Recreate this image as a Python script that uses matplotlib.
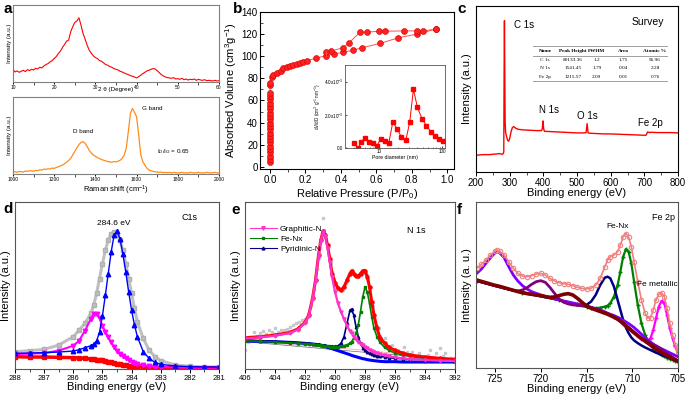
import numpy as np
import matplotlib
matplotlib.use("Agg")
import matplotlib.pyplot as plt
from matplotlib.lines import Line2D

plt.rcParams['font.family'] = ['Liberation Sans', 'DejaVu Sans']
plt.rcParams['mathtext.fontset'] = 'custom'
plt.rcParams['mathtext.rm'] = 'Liberation Sans'
plt.rcParams['mathtext.it'] = 'Liberation Sans:italic'

# ---------------- data ----------------
# a: XRD
xrd_2theta = np.arange(10, 60.5, 0.5)
xrd_int = [38, 30, 33, 29, 32, 35, 31, 37, 34, 38, 36, 41, 39, 44, 42, 48, 52, 55, 60, 64,
           70, 76, 85, 92, 103, 112, 122, 125, 150, 165, 178, 182, 192, 170, 145, 128, 110, 95, 86, 78,
           73, 70, 64, 62, 57, 52, 50, 46, 44, 40, 38, 36, 32, 30, 27, 24, 22, 19, 17, 15,
           12, 16, 20, 25, 29, 33, 35, 38, 40, 39, 34, 28, 22, 18, 15, 13, 12, 11, 13, 9,
           10, 8, 11, 7, 9, 6, 8, 7, 9, 5, 8, 6, 5, 7, 4, 5, 4, 3, 5, 3, 4]

# a: Raman
raman_shift = np.arange(1000, 2001, 10)
raman_int = [6, 7, 5, 8, 7, 6, 9, 8, 10, 9, 9, 11, 10, 13, 12, 15, 14, 16, 15, 18,
             17, 20, 22, 25, 27, 31, 36, 41, 48, 58, 69, 80, 90, 96, 99, 94, 84, 72, 64, 58,
             54, 50, 47, 44, 42, 40, 38, 37, 36, 38, 37, 39, 42, 48, 58, 80, 130, 185, 200, 188,
             175, 120, 60, 38, 27, 18, 12, 10, 8, 7, 6, 5, 6, 4, 5, 4, 5, 3, 5, 4,
             3, 4, 5, 3, 4, 3, 5, 4, 3, 4, 5, 3, 4, 3, 5, 4, 3, 4, 5, 3, 4]

# b: N2 isotherm
ads_p = [0.0] * 22 + [0.001, 0.003, 0.01, 0.02, 0.04, 0.06, 0.075, 0.094, 0.113, 0.132, 0.151,
                      0.169, 0.188, 0.207, 0.26, 0.315, 0.362, 0.414, 0.471, 0.521, 0.621,
                      0.725, 0.829, 0.936]
ads_v = [4, 7, 10, 13, 16, 19, 22, 25, 28, 31, 34, 37, 40, 43, 46, 49, 52, 55, 58, 61, 64, 67,
         74, 76, 81, 83, 85, 87, 89, 90, 91.3, 92.4, 93.3, 94.2, 95.1, 96, 98.2, 100.5, 102,
         103.6, 105.6, 107.7, 111.6, 116.7, 120, 124.5]
des_p = [0.936, 0.866, 0.829, 0.757, 0.65, 0.616, 0.546, 0.508, 0.447, 0.414, 0.345, 0.315]
des_v = [124.5, 122.9, 122.9, 122.9, 122.6, 122.6, 121.8, 121.8, 112.2, 107.7, 104.7, 103.6]

# b inset: pore size distribution (x1e-3)
pore_d = [3.96, 4.64, 5.12, 6.0, 6.85, 7.83, 9.08, 10.5, 12.2, 14.1, 16.3, 19.1, 22.3, 26.2,
          30.3, 34.7, 40.1, 47.5, 55.7, 65.3, 76.6, 89.6, 103.7]
pore_dv = [0.32, 0.0, 0.36, 0.61, 0.36, 0.30, 0.10, 0.57, 0.44, 0.28, 1.54, 1.17, 0.67, 0.46,
           1.54, 3.54, 2.46, 1.76, 1.35, 0.99, 0.73, 0.57, 0.44]

# c: survey
surv_e = [200, 220, 240, 260, 270, 278, 281, 282.5, 283.5, 284.5, 285.5, 286.5, 288, 291, 294,
          297, 300, 304, 308, 312, 318, 325, 340, 360, 380, 395, 397, 399, 401, 403, 420, 440,
          460, 480, 500, 520, 527, 530, 533, 540, 560, 580, 600, 650, 700, 705, 710, 715, 720,
          740, 760, 780, 800]
surv_i = [50, 52, 52, 54, 55, 53, 55, 60, 300, 453, 300, 150, 118, 105, 95, 92, 100, 120, 133,
          136, 131, 128, 126, 125, 124, 124, 130, 153, 130, 122, 121, 120, 119, 118, 117, 117,
          118, 145, 117, 116, 115, 114, 114, 112, 110, 110, 120, 118, 119, 118, 118, 118, 117]
tbl_header = ["Name", "Peak Height", "FWHM", "Area", "Atomic %"]
tbl_rows = [["C 1s", "80133.36", "1.2", "1.75", "96.96"],
            ["N 1s", "1541.45", "1.79", "0.04", "2.28"],
            ["Fe 2p", "1215.57", "2.09", "0.01", "0.76"]]

# d: C1s
c1s_e = [288, 287.5, 287, 286.5, 286, 285.8, 285.6, 285.4, 285.3, 285.2, 285.1, 285.0, 284.9,
         284.8, 284.7, 284.6, 284.5, 284.4, 284.3, 284.2, 284.1, 284.0, 283.9, 283.8, 283.6,
         283.4, 283.2, 283.0, 282.5, 282, 281.5, 281]
c1s_raw = [52, 55, 59, 72, 97, 117, 137, 167, 192, 227, 272, 317, 357, 387, 407, 412, 407, 387,
           357, 317, 272, 227, 182, 142, 92, 57, 37, 25, 12, 8, 6, 6]
c1s_cc = [47, 48, 49, 51, 54, 58, 64, 70, 75, 85, 110, 160, 222, 287, 352, 402, 414, 392, 347,
          292, 232, 177, 132, 97, 52, 32, 20, 14, 9, 7, 6, 6]
c1s_cn = [45, 46, 48, 55, 70, 85, 115, 150, 165, 165, 152, 130, 112, 95, 80, 66, 55, 45, 38,
          32, 27, 22, 18, 15, 11, 9, 7, 6, 5, 4, 4, 4]
c1s_bg = [37, 36, 36, 35, 34, 33, 32, 30, 29, 28, 27, 26, 24, 22, 20, 18, 16, 14, 13, 11, 10,
          9, 8, 7, 6, 5, 5, 4, 4, 4, 4, 4]

# e: N1s
n1s_e = [406, 405, 404, 403, 402.5, 402, 401.75, 401.5, 401.3, 401.1, 400.95, 400.8, 400.65,
         400.5, 400.35, 400.2, 400.0, 399.8, 399.6, 399.4, 399.2, 399.0, 398.9, 398.75, 398.6,
         398.45, 398.3, 398.15, 398.0, 397.85, 397.7, 397.55, 397.4, 397.2, 397.0, 396.7,
         396.4, 396.0, 395.5, 395, 394, 393, 392]
n1s_env = [94, 97, 102, 110, 120, 140, 162, 212, 267, 342, 387, 414, 404, 372, 332, 287, 260,
           242, 237, 247, 267, 287, 294, 287, 280, 279, 287, 295, 296, 277, 247, 202, 162, 122,
           94, 77, 65, 56, 48, 42, 36, 32, 29]
n1s_graph = [92, 95, 100, 108, 118, 138, 160, 210, 265, 340, 385, 412, 400, 364, 322, 277, 232,
             197, 172, 150, 130, 114, 107, 97, 89, 82, 76, 71, 66, 62, 58, 55, 52, 48, 45, 41,
             38, 35, 32, 30, 27, 25, 24]
n1s_fenx = [85, 83, 81, 79, 77, 76, 75, 74, 73, 72, 71, 70, 69, 68, 67, 67, 67, 67, 68, 70, 73,
            77, 82, 92, 107, 132, 172, 217, 246, 232, 197, 157, 122, 97, 80, 65, 56, 48, 42,
            38, 32, 28, 25]
n1s_pyr = [87, 85, 83, 81, 79, 78, 77, 76, 75, 74, 73, 72, 71, 70, 69, 68, 68, 70, 77, 97, 137,
           177, 180, 162, 127, 97, 77, 64, 56, 51, 47, 44, 42, 40, 38, 36, 34, 32, 31, 30, 28,
           26, 25]
n1s_bg = [84, 83, 82, 80, 79, 77, 76, 75, 74, 72, 71, 69, 67, 65, 63, 61, 58, 55, 52, 49, 46,
          43, 41, 39, 37, 35, 33, 31, 30, 28, 27, 26, 25, 24, 23, 22, 22, 22, 21, 21, 21, 21, 21]
n1s_bgline_e = [406, 399, 392]
n1s_bgline_1 = [84, 60, 30]
n1s_bgline_2 = [82, 54, 27]
n1s_raw_e = [406.0, 405.8, 405.6, 405.4, 405.2, 405.0, 404.8, 404.6, 404.4, 404.2, 404.0, 403.8,
             403.6, 403.4, 403.2, 403.0, 402.8, 402.6, 402.4, 402.2, 402.0, 401.8, 401.6, 401.4,
             401.2, 401.1, 401.0, 400.9, 400.8, 400.75, 400.7, 400.6, 400.5, 400.4, 400.3,
             400.2, 400.1, 400.0, 399.9, 399.8, 399.7, 399.6, 399.5, 399.4, 399.3, 399.2,
             399.1, 399.0, 398.9, 398.8, 398.7, 398.6, 398.5, 398.4, 398.3, 398.2, 398.1,
             398.0, 397.9, 397.8, 397.7, 397.6, 397.5, 397.4, 397.2, 397.1, 397.0, 396.8,
             396.7, 396.5, 396.2, 396.0, 395.8, 395.6, 395.4, 395.2, 394.9, 394.7, 394.4,
             394.2, 394.0, 393.8, 393.7, 393.5, 393.3, 393.1, 393.0, 392.8, 392.7, 392.5,
             392.3, 392.1]
n1s_raw_i = [57, 80, 95, 112, 100, 108, 114, 104, 117, 110, 122, 112, 118, 116, 121, 127, 131,
             137, 141, 147, 150, 165, 190, 238, 300, 335, 365, 398, 454, 418, 405, 392, 366,
             340, 318, 292, 270, 256, 250, 240, 236, 241, 238, 250, 258, 270, 282, 290, 298,
             292, 284, 283, 276, 284, 290, 296, 299, 290, 282, 268, 245, 192, 188, 160, 128,
             122, 98, 88, 92, 70, 72, 58, 57, 45, 67, 50, 52, 38, 47, 30, 22, 42, 57, 35, 47,
             30, 62, 38, 47, 25, 32, 20]

# f: Fe 2p
fe_e = [727, 726.5, 726, 725.5, 725, 724.8, 724.5, 724, 723.5, 723, 722.5, 722, 721.5, 721,
        720.5, 720, 719.5, 719, 718.5, 718, 717.5, 717, 716.5, 716, 715.5, 715, 714.5, 714,
        713.5, 713, 712.7, 712.4, 712, 711.6, 711.3, 711, 710.7, 710.4, 710.1, 709.8, 709.4,
        709, 708.6, 708.3, 708, 707.7, 707.4, 707.1, 706.8, 706.5, 706.2, 705.9, 705.6,
        705.3, 705]
fe_env = [300, 312, 325, 340, 352, 355, 352, 340, 320, 300, 285, 277, 275, 278, 283, 285, 280,
          270, 262, 257, 254, 252, 248, 243, 240, 238, 240, 250, 270, 305, 325, 335, 340, 350,
          370, 395, 405, 395, 365, 320, 260, 205, 165, 150, 152, 175, 205, 222, 227, 215, 180,
          135, 100, 70, 50]
fe_725 = [285, 298, 315, 332, 347, 350, 347, 332, 305, 280, 262, 248, 238, 230, 225, 220, 216,
          212, 208, 205, 202, 199, 196, 193, 190, 187, 183, 179, 175, 169, 165, 162, 158, 153,
          149, 144, 139, 134, 128, 122, 112, 102, 92, 85, 78, 72, 67, 62, 58, 54, 50, 46, 42,
          38, 34]
fe_bg = [265, 261, 257, 253, 249, 248, 246, 242, 238, 234, 230, 227, 224, 222, 220, 218, 215,
         213, 214, 218, 222, 224, 220, 210, 198, 187, 180, 175, 170, 165, 162, 158, 153, 147,
         141, 134, 127, 120, 113, 106, 97, 89, 81, 75, 69, 63, 57, 52, 47, 42, 37, 32, 28, 24,
         20]
fe_720_e = [727, 726, 725, 724, 723, 722.5, 722, 721.5, 721, 720.5, 720, 719.5, 719, 718.5, 718,
            717.5, 717, 716.5, 716, 715, 714, 713, 712, 711, 710, 709, 708, 707, 706, 705]
fe_720 = [264, 256, 248, 241, 234, 232, 235, 242, 252, 260, 263, 258, 243, 225, 208, 198, 193,
          190, 189, 185, 178, 168, 155, 136, 113, 90, 75, 60, 40, 22]
fe_712_e = [727, 724, 721, 718, 717, 716, 715.5, 715, 714.5, 714, 713.5, 713, 712.7, 712.4, 712,
            711.6, 711.3, 711, 710.7, 710.4, 710.1, 709.8, 709.4, 709, 708.6, 708.3, 708,
            707.7, 707.4, 707.1, 706.8, 706.5, 706.2, 705.9, 705.6, 705.3, 705]
fe_712 = [262, 240, 222, 205, 195, 189, 188, 190, 200, 220, 250, 272, 275, 270, 245, 205, 175,
          145, 122, 105, 92, 83, 75, 68, 62, 58, 54, 50, 46, 43, 39, 36, 33, 30, 27, 24, 21]
fe_710_e = [727, 722, 718, 716, 715, 714.5, 714, 713.5, 713, 712.7, 712.4, 712, 711.6, 711.3,
            711, 710.7, 710.4, 710.1, 709.8, 709.4, 709, 708.6, 708.3, 708, 707.7, 707.4,
            707.1, 706.8, 706.5, 706.2, 705.9, 705.6, 705.3, 705]
fe_710 = [262, 226, 205, 192, 185, 182, 180, 182, 185, 188, 195, 215, 250, 290, 335, 358, 350,
          315, 260, 190, 135, 100, 82, 68, 58, 50, 44, 39, 35, 31, 28, 25, 22, 19]
fe_707_e = [712, 711, 710, 709.4, 709, 708.6, 708.3, 708, 707.7, 707.4, 707.1, 706.8, 706.5,
            706.2, 705.9, 705.6, 705.3, 705]
fe_707 = [153, 134, 112, 97, 88, 82, 80, 90, 115, 150, 185, 202, 195, 160, 120, 90, 65, 45]

# ---------------- figure ----------------
fig = plt.figure(figsize=(6.85, 3.94), dpi=100)
W, H = 685.0, 394.0


def add_ax(x0, y0, x1, y1):
    return fig.add_axes([x0 / W, 1 - y1 / H, (x1 - x0) / W, (y1 - y0) / H])


def style(ax, fs=7):
    for s in ax.spines.values():
        s.set_linewidth(0.8)
    ax.tick_params(labelsize=fs, width=0.7, length=3, pad=1.5)
    ax.tick_params(which='minor', width=0.5, length=1.8)


# a top: XRD
ax = add_ax(13, 5, 219, 82)
ax.plot(xrd_2theta, xrd_int, color='red', lw=0.8)
ax.set_xlim(10, 60)
ax.set_ylim(0, 230)
ax.set_yticks([])
ax.set_xticks(range(10, 61, 10))
ax.set_xticks(range(15, 60, 10), minor=True)
style(ax, 3.5)
ax.tick_params(length=1.5, pad=0.5)
for s in ax.spines.values():
    s.set_color('#808080')
ax.set_xlabel('2 θ (Degree)', fontsize=4.5, labelpad=-2)
ax.set_ylabel('Intensity (a.u.)', fontsize=4.5, labelpad=1)

# a bottom: Raman
ax = add_ax(13, 97, 219, 174)
ax.plot(raman_shift, raman_int, color='#ff8c1a', lw=0.9)
ax.set_xlim(1000, 2000)
ax.set_ylim(0, 235)
ax.set_yticks([])
ax.set_xticks(range(1000, 2001, 200))
ax.set_xticks(range(1100, 2000, 200), minor=True)
style(ax, 3.5)
ax.tick_params(length=1.5, pad=1)
for s in ax.spines.values():
    s.set_color('#808080')
ax.set_xlabel('Raman shift (cm$^{-1}$)', fontsize=5.5, labelpad=1)
ax.set_ylabel('Intensity (a.u.)', fontsize=4.5, labelpad=1)
ax.text(1290, 125, 'D band', fontsize=4.5)
ax.text(1625, 195, 'G band', fontsize=4.5)
ax.text(1700, 65, 'I$_D$/I$_G$ = 0.65', fontsize=4.5)

fig.text(3 / W, 1 - 9 / H, 'a', fontsize=11, fontweight='bold', va='center')

# b: isotherm
ax = add_ax(260, 12, 454, 169)
ball = dict(marker='o', ms=4.3, mfc='#ff2020', mec='#d00000', mew=0.4)
ax.plot(ads_p, ads_v, color='#ff5050', lw=0.7, **ball)
ax.plot(des_p, des_v, color='#ff5050', lw=0.7, **ball)
ax.plot([des_p[-1], ads_p[37]], [des_v[-1], ads_v[37]], color='#ff5050', lw=0.7)
ax.set_xlim(-0.056, 1.038)
ax.set_ylim(-2, 140)
ax.set_xticks([0, 0.2, 0.4, 0.6, 0.8, 1.0])
ax.set_xticks([0.1, 0.3, 0.5, 0.7, 0.9], minor=True)
ax.set_yticks(range(0, 141, 20))
ax.set_yticks(range(10, 140, 20), minor=True)
style(ax, 7)
ax.tick_params(axis='y', direction='in')
ax.tick_params(axis='y', which='minor', direction='in')
ax.set_xlabel('Relative Pressure (P/P$_0$)', fontsize=8, labelpad=1)
ax.set_ylabel('Absorbed Volume (cm$^3$g$^{-1}$)', fontsize=8, labelpad=2)
fig.text(233 / W, 1 - 9 / H, 'b', fontsize=11, fontweight='bold', va='center')

axi = add_ax(345, 65, 445, 148)
axi.plot(pore_d, pore_dv, color='red', lw=0.7, marker='s', ms=2.3, mec='red')
axi.set_xscale('log')
axi.set_xlim(2.85, 110)
axi.set_ylim(0, 5)
axi.set_xticks([10, 100])
axi.set_xticklabels(['10', '100'])
axi.set_yticks([0, 2, 4])
axi.set_yticklabels(['0.0', '2.0x10$^{-3}$', '4.0x10$^{-3}$'])
axi.tick_params(labelsize=3.3, length=1.5, width=0.5, pad=1, direction='in')
axi.tick_params(which='minor', length=1, width=0.4, direction='in')
for s in axi.spines.values():
    s.set_linewidth(0.6)
    s.set_color('#555555')
axi.set_xlabel('Pore diameter (nm)', fontsize=3.8, labelpad=0.5)
axi.set_ylabel('dV/dD (cm$^3$ g$^{-1}$ nm$^{-1}$)', fontsize=3.3, labelpad=0.5)

# c: survey
ax = add_ax(476, 6, 678, 172)
ax.plot(surv_e, surv_i, color='red', lw=1.0)
ax.set_xlim(200, 800)
ax.set_ylim(0, 497)
ax.set_yticks([])
ax.set_xticks(range(200, 801, 100))
ax.set_xticks(range(250, 800, 100), minor=True)
style(ax, 7)
ax.set_xlabel('Binding energy (eV)', fontsize=8, labelpad=0)
ax.set_ylabel('Intensity (a.u.)', fontsize=8, labelpad=3)
ax.text(312, 440, 'C 1s', fontsize=7, va='center')
ax.text(388, 186, 'N 1s', fontsize=7, va='center')
ax.text(500, 168, 'O 1s', fontsize=7, va='center')
ax.text(680, 147, 'Fe 2p', fontsize=7, va='center')
ax.text(0.85, 0.904, 'Survey', fontsize=7.5, ha='center', va='center', transform=ax.transAxes)
col_x = [0.342, 0.479, 0.598, 0.728, 0.886]
row_y = [0.731, 0.675, 0.625, 0.574]
for yl in [0.761, 0.70, 0.55]:
    ax.plot([0.282, 0.946], [yl, yl], color='#a0a0a0', lw=0.7, transform=ax.transAxes)
for cx, h in zip(col_x, tbl_header):
    ax.text(cx, row_y[0], h, fontsize=3.8, ha='center', va='center', family='Liberation Serif',
            fontweight='bold', transform=ax.transAxes)
for ry, row in zip(row_y[1:], tbl_rows):
    for cx, v in zip(col_x, row):
        ax.text(cx, ry, v, fontsize=3.8, ha='center', va='center', family='Liberation Serif',
                transform=ax.transAxes)
fig.text(457 / W, 1 - 9 / H, 'c', fontsize=11, fontweight='bold', va='center')

# d: C1s
ax = add_ax(15, 202, 219, 369)
ax.plot(c1s_e, c1s_raw, color='#c0c0c0', lw=2.2, marker='s', ms=2.8, mec='#b0b0b0')
ax.plot(c1s_e, c1s_bg, color='red', lw=2.5, marker='s', ms=2.5)
ax.plot(c1s_e, c1s_cn, color='magenta', lw=1.5, marker='v', ms=3.2)
ax.plot(c1s_e, c1s_cc, color='blue', lw=1.0, marker='^', ms=3.2)
ax.set_xlim(288, 281)
ax.set_ylim(0, 502)
ax.set_yticks([])
ax.set_xticks(range(281, 289))
ax.set_xticks(np.arange(281.5, 288, 1), minor=True)
style(ax, 5.5)
for s in ax.spines.values():
    s.set_color('#555555')
ax.set_xlabel('Binding energy (eV)', fontsize=8, labelpad=0)
ax.set_ylabel('Intensity (a.u.)', fontsize=8, labelpad=3)
ax.text(284.6, 432, '284.6 eV', fontsize=6, ha='center')
ax.text(282.0, 448, 'C1s', fontsize=6.5, ha='center')
fig.text(3 / W, 1 - 209 / H, 'd', fontsize=11, fontweight='bold', va='center')

# e: N1s
ax = add_ax(245, 202, 455, 369)
ax.plot(n1s_raw_e, n1s_raw_i, ls='none', marker='s', ms=1.8, color='#c8c8c8', mec='#c8c8c8')
ax.plot(n1s_bgline_e, n1s_bgline_1, color='#ffaacc', lw=0.7)
ax.plot(n1s_bgline_e, n1s_bgline_2, color='#607060', lw=0.5)
ax.plot(n1s_e, n1s_bg, color='blue', lw=2.2)
ax.plot(n1s_e, n1s_pyr, color='#000080', lw=1.2, marker='^', ms=1.8)
ax.plot(n1s_e, n1s_fenx, color='green', lw=1.2, marker='s', ms=1.8)
ax.plot(n1s_e, n1s_env, color='red', lw=2.2, marker='o', ms=2.2)
ax.plot(n1s_e, n1s_graph, color='#ff33cc', lw=1.6, marker='v', ms=2.2)
ax.set_xlim(406, 392)
ax.set_ylim(0, 502)
ax.set_yticks([])
ax.set_xticks(range(392, 407, 2))
ax.set_xticks(range(393, 406, 2), minor=True)
style(ax, 5.5)
for s in ax.spines.values():
    s.set_color('#555555')
ax.set_xlabel('Binding energy (eV)', fontsize=8, labelpad=0)
ax.set_ylabel('Intensity (a.u.)', fontsize=8, labelpad=3)
ax.text(395.2, 415, 'N 1s', fontsize=6.5, va='center')
handles = [Line2D([], [], color='#ff33cc', lw=0.8, marker='v', ms=2.5),
           Line2D([], [], color='green', lw=0.8, marker='s', ms=2),
           Line2D([], [], color='#000080', lw=0.8, marker='^', ms=2)]
ax.legend(handles, ['Graphitic-N', 'Fe-Nx', 'Pyridinic-N'], loc='upper left',
          bbox_to_anchor=(0.0, 0.89), frameon=False, fontsize=6, handlelength=3.2,
          handletextpad=0.4, labelspacing=0.25, borderaxespad=0.2)
fig.text(231 / W, 1 - 210 / H, 'e', fontsize=11, fontweight='bold', va='center')

# f: Fe 2p
ax = add_ax(476, 202, 678, 368)
ax.plot(fe_e, fe_725, color='#c080ff', lw=0.8)
ax.plot(fe_707_e, fe_707, color='magenta', lw=1.6, marker='+', ms=2.5)
ax.plot(fe_710_e, fe_710, color='green', lw=1.6, marker='+', ms=2.5)
ax.plot(fe_712_e, fe_712, color='#000080', lw=1.8)
ax.plot(fe_e, fe_725, color='#8000ff', lw=2.0)
ax.plot(fe_720_e, fe_720, color='#800080', lw=2.0)
ax.plot(fe_e, fe_bg, color='#800000', lw=2.6)
ax.plot(fe_e, fe_env, color='#f08080', lw=1.2, marker='o', ms=3.2, mfc='none', mec='#f08080',
        mew=0.8)
ax.set_xlim(727.08, 705)
ax.set_ylim(0, 500)
ax.set_yticks([])
ax.set_xticks(range(705, 726, 5))
style(ax, 7)
for s in ax.spines.values():
    s.set_color('#555555')
ax.set_xlabel('Binding energy (eV)', fontsize=8, labelpad=0)
ax.set_ylabel('Intensity (a. u.)', fontsize=8, labelpad=3)
ax.text(706.6, 452, 'Fe 2p', fontsize=6.5, ha='center', va='center')
ax.text(711.6, 425, 'Fe-Nx', fontsize=6, ha='center', va='center')
ax.text(707.2, 253, 'Fe metallic', fontsize=6, ha='center', va='center')
fig.text(457 / W, 1 - 210 / H, 'f', fontsize=11, fontweight='bold', va='center')

fig.savefig('out.png', dpi=100)
